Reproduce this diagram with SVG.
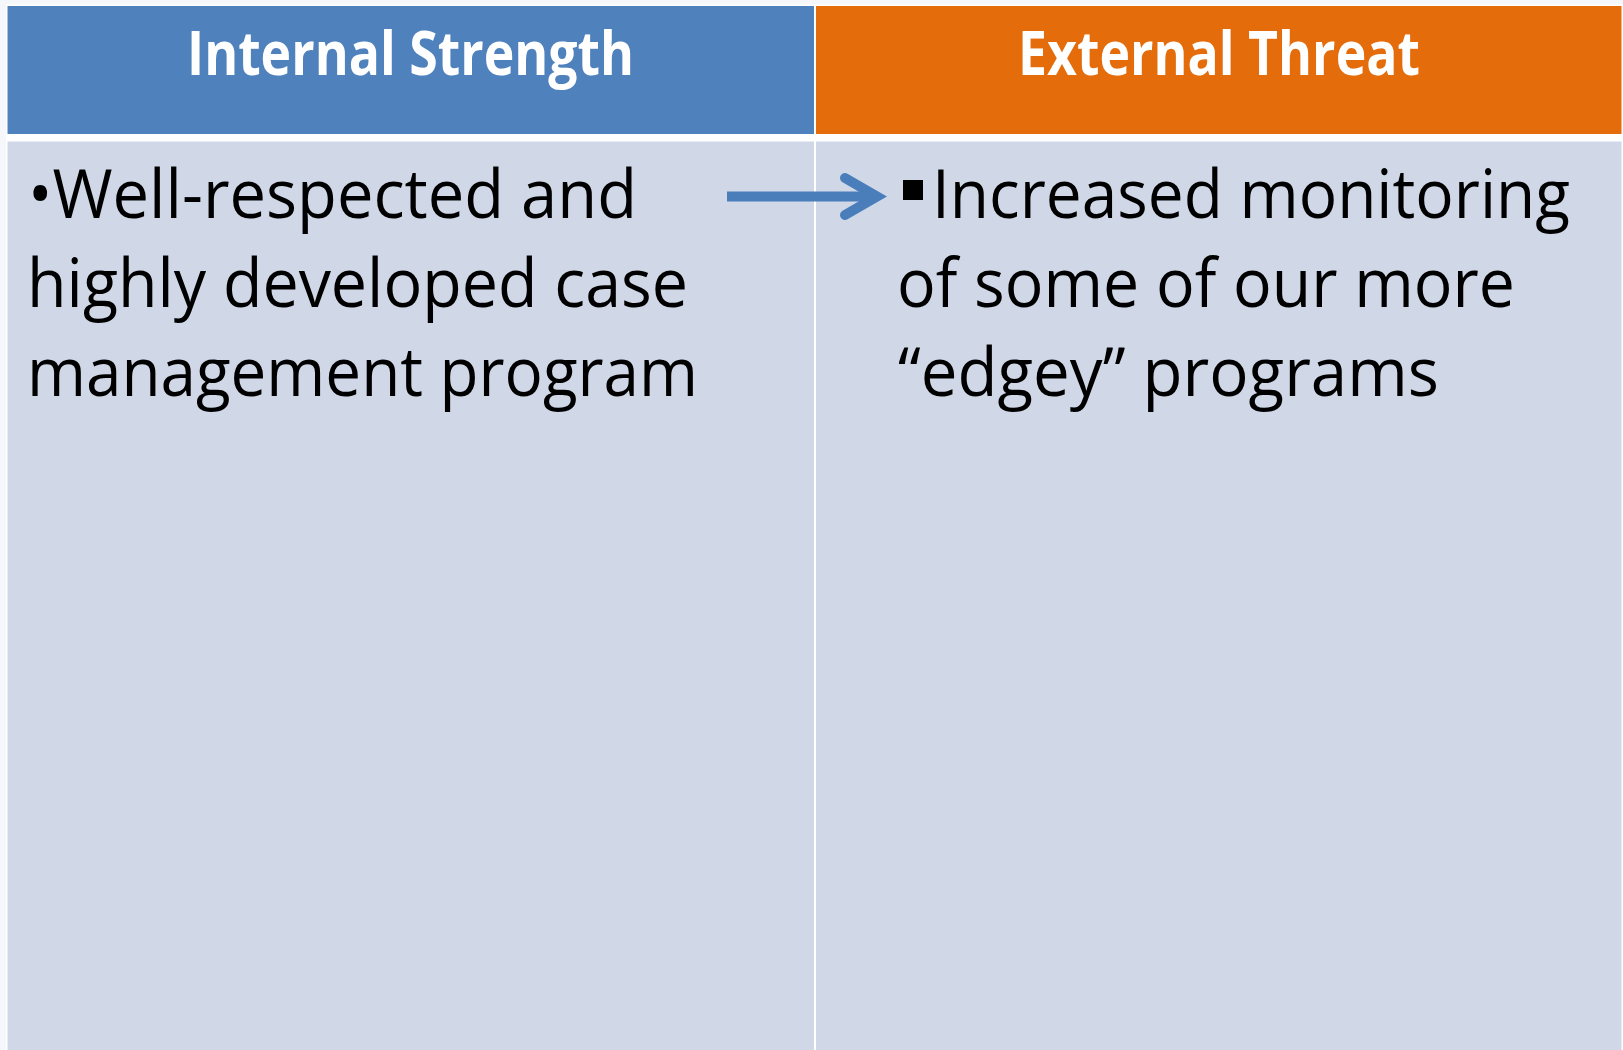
<svg xmlns="http://www.w3.org/2000/svg" width="1623" height="1050" viewBox="0 0 1623 1050">
<style>
.hdr{font-family:"Open Sans","Liberation Sans",sans-serif;font-weight:700;font-size:61px;fill:#FFFFFF;}
.body{font-family:"Open Sans","Liberation Sans",sans-serif;font-size:68px;fill:#000000;}
.conn{stroke:#4A7EBB;stroke-width:10;fill:none;}
</style>
<rect x="0" y="0" width="1623" height="1050" fill="#F5F7FA"/>
<rect x="6" y="4.5" width="1617" height="1045.5" fill="#FFFFFF"/>
<g id="header-internal">
<rect x="7.5" y="6" width="806.5" height="128" fill="#4F81BD"/>
<text class="hdr" x="187" y="75" textLength="447" lengthAdjust="spacingAndGlyphs">Internal Strength</text>
</g>
<g id="header-external">
<rect x="816" y="6" width="805.5" height="128" fill="#E46C0A"/>
<text class="hdr" x="1018" y="75" textLength="402" lengthAdjust="spacingAndGlyphs">External Threat</text>
</g>
<g id="cell-strength">
<rect x="7.5" y="141.5" width="806.5" height="908.5" fill="#D0D8E8"/>
<text class="body" x="28" y="218" textLength="609" lengthAdjust="spacingAndGlyphs">•Well-respected and</text>
<text class="body" x="27" y="307" textLength="661" lengthAdjust="spacingAndGlyphs">highly developed case</text>
<text class="body" x="27" y="396" textLength="671" lengthAdjust="spacingAndGlyphs">management program</text>
</g>
<g id="cell-threat">
<rect x="816" y="141.5" width="805.5" height="908.5" fill="#D0D8E8"/>
<rect x="903" y="180" width="20" height="20" fill="#000000"/>
<text class="body" x="932" y="218" textLength="638" lengthAdjust="spacingAndGlyphs">Increased monitoring</text>
<text class="body" x="897" y="307" textLength="618" lengthAdjust="spacingAndGlyphs">of some of our more</text>
<text class="body" x="898" y="396" textLength="541" lengthAdjust="spacingAndGlyphs">“edgey” programs</text>
</g>
<g id="connectors">
<line class="conn" x1="727" y1="196.5" x2="874" y2="196.5" stroke-linecap="butt"/>
<polyline class="conn" points="845,178 877,196.5 845,215" stroke-linecap="round" stroke-linejoin="miter"/>
</g>
</svg>
